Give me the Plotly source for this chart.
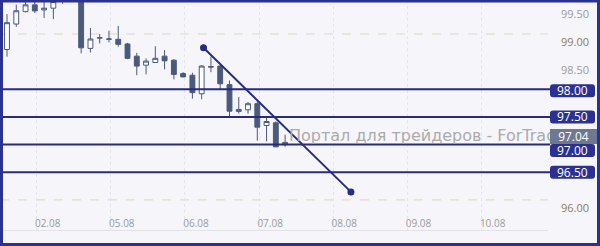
import plotly.graph_objects as go

# ---------------- data ----------------
opens  = [98.72, 99.18, 99.405, 99.527, 99.436, 99.467, 99.66, 99.72, 99.70, 98.74,
          98.925, 98.905, 98.904, 98.82, 98.60, 98.436, 98.485, 98.60, 98.527, 98.285,
          98.255, 97.92, 98.40, 98.42, 98.085, 97.60, 97.63, 97.74, 97.345, 97.395, 97.00]
highs  = [99.36, 99.53, 99.66, 99.58, 99.58, 99.67, 99.75, 99.78, 99.78, 99.11,
          99.00, 99.06, 99.145, 98.84, 98.66, 98.56, 98.78, 98.71, 98.545, 98.31,
          98.30, 98.44, 98.59, 98.44, 98.16, 97.86, 97.77, 97.78, 97.50, 97.42, 97.18]
lows   = [98.59, 99.13, 99.39, 99.38, 99.29, 99.27, 99.545, 99.59, 98.65, 98.667,
          98.83, 98.85, 98.77, 98.545, 98.255, 98.27, 98.48, 98.36, 98.18, 98.22,
          97.83, 97.82, 98.31, 97.995, 97.50, 97.56, 97.56, 97.07, 97.06, 96.955, 96.96]
closes = [99.205, 99.42, 99.527, 99.418, 99.467, 99.587, 99.70, 99.68, 98.75, 98.91,
          98.935, 98.91, 98.813, 98.56, 98.42, 98.51, 98.56, 98.515, 98.27, 98.224,
          97.94, 98.42, 98.41, 98.10, 97.605, 97.636, 97.74, 97.315, 97.418, 96.96, 97.04]
candle_idx = list(range(len(opens)))

day_labels = ["02.08", "05.08", "06.08", "07.08", "08.08", "09.08", "10.08"]
day_first_candle = [4, 12, 20, 28, 36, 44, 52]

levels = [98.00, 97.50, 97.00, 96.50]
round_levels = [99.00, 96.00]
last_price = 97.04

trend_x = [21.2, 37.1]
trend_y = [98.75, 96.145]

ytick_vals = [96.0, 98.5, 99.0, 99.5]

watermark = "Портал для трейдеров - ForTrader.ru"

# ---------------- style ----------------
W, H = 600, 246
BG = "#f6f6fa"
FRAME = "#2b3192"
LEVEL_LINE = "#272c7e"
LEVEL_BOX = "#2b3192"
BEAR = "#4b5a7b"
GREY_TXT = "#9a9a9a"
ROUND_TXT = "#8a7d58"

x_dom_right = 548 / W
x_range = [-0.755, 58.36]
y_dom_bottom = 1 - 230 / H
y_range = [95.456, 99.615]

fig = go.Figure()

fig.add_trace(go.Candlestick(
    x=candle_idx, open=opens, high=highs, low=lows, close=closes,
    increasing=dict(line=dict(color=BEAR, width=1), fillcolor="#ffffff"),
    decreasing=dict(line=dict(color=BEAR, width=1), fillcolor=BEAR),
    whiskerwidth=0, hoverinfo="skip", showlegend=False,
))

fig.add_trace(go.Scatter(
    x=trend_x, y=trend_y, mode="lines+markers",
    line=dict(color=LEVEL_LINE, width=2),
    marker=dict(color=LEVEL_LINE, size=7),
    hoverinfo="skip", showlegend=False, cliponaxis=False,
))

shapes = []
# dashed round-number lines
for lv in round_levels:
    shapes.append(dict(type="line", xref="paper", yref="y", x0=0, x1=x_dom_right,
                       y0=lv, y1=lv, layer="below",
                       line=dict(color="#ddd6c0", width=1, dash="dash")))
# horizontal levels
for lv in levels:
    shapes.append(dict(type="line", xref="paper", yref="y", x0=0, x1=550 / W,
                       y0=lv, y1=lv, layer="above",
                       line=dict(color=LEVEL_LINE, width=2)))

# rounded label tags
label_shift = {98.00: -1.5, 97.50: 0, 97.00: -6, 96.50: 0}
bw, bh, r = 45, 13, 3
annotations = []
annotations.append(dict(
    text=watermark, xref="paper", yref="paper", x=287 / W, y=1 - 135 / H,
    xanchor="left", yanchor="middle", showarrow=False,
    font=dict(family="DejaVu Sans", size=16, color="#ababab")))

for lv in levels:
    s = label_shift[lv]
    y0, y1 = s - bh / 2, s + bh / 2
    path = (f"M{r},{y0} L{bw - r},{y0} Q{bw},{y0} {bw},{y0 + r} L{bw},{y1 - r} "
            f"Q{bw},{y1} {bw - r},{y1} L{r},{y1} Q0,{y1} 0,{y1 - r} L0,{y0 + r} Q0,{y0} {r},{y0} Z")
    shapes.append(dict(type="path", xref="paper", yref="y",
                       xsizemode="pixel", ysizemode="pixel",
                       xanchor=550 / W, yanchor=lv, path=path,
                       fillcolor=LEVEL_BOX, line=dict(width=0), layer="above"))
    annotations.append(dict(
        text=f"{lv:.2f}", xref="paper", yref="y", x=(550 + bw / 2) / W, y=lv,
        yshift=s, xanchor="center", yanchor="middle", showarrow=False,
        font=dict(family="Open Sans", size=12, color="#ffffff")))

annotations.append(dict(
    text=f"{last_price:.2f}", xref="paper", yref="y", x=550 / W, y=last_price,
    yshift=6, xanchor="left", yanchor="middle", showarrow=False,
    width=43, height=11, borderpad=1, bgcolor="#6e7891", bordercolor="#6e7891",
    font=dict(family="Open Sans", size=12, color="#ffffff")))

# outer frame
shapes.append(dict(type="rect", xref="paper", yref="paper",
                   x0=1.5 / W, x1=1 - 1.5 / W, y0=1.5 / H, y1=1 - 1.0 / H,
                   line=dict(color=FRAME, width=3), layer="above"))

ytick_text = []
for v in ytick_vals:
    if v in round_levels:
        ytick_text.append(f"<span style='color:{ROUND_TXT}'>{v:.2f}</span>")
    else:
        ytick_text.append(f"{v:.2f}")

fig.update_layout(
    width=W, height=H, margin=dict(l=0, r=0, t=0, b=0),
    paper_bgcolor=BG, plot_bgcolor=BG,
    boxgap=0.25,
    shapes=shapes, annotations=annotations,
    xaxis=dict(
        domain=[0, x_dom_right], range=x_range, rangeslider=dict(visible=False),
        tickvals=[i - 0.8 for i in day_first_candle], ticktext=day_labels,
        ticklabelposition="inside", ticklabelshift=11, ticks="",
        tickfont=dict(family="Open Sans", size=10, color=GREY_TXT),
        showgrid=True, gridcolor="#e4e4ec", griddash="dot", gridwidth=1,
        showline=True, linecolor="#e2e2e8", linewidth=1,
        zeroline=False, fixedrange=True,
    ),
    yaxis=dict(
        domain=[y_dom_bottom, 1], range=y_range, side="right",
        tickvals=ytick_vals, ticktext=ytick_text, ticks="",
        ticklabelshift=8, ticklabelstandoff=12,
        tickfont=dict(family="Open Sans", size=11, color=GREY_TXT),
        showgrid=False, zeroline=False, showline=False, fixedrange=True,
    ),
)

fig.write_html("out.html")
